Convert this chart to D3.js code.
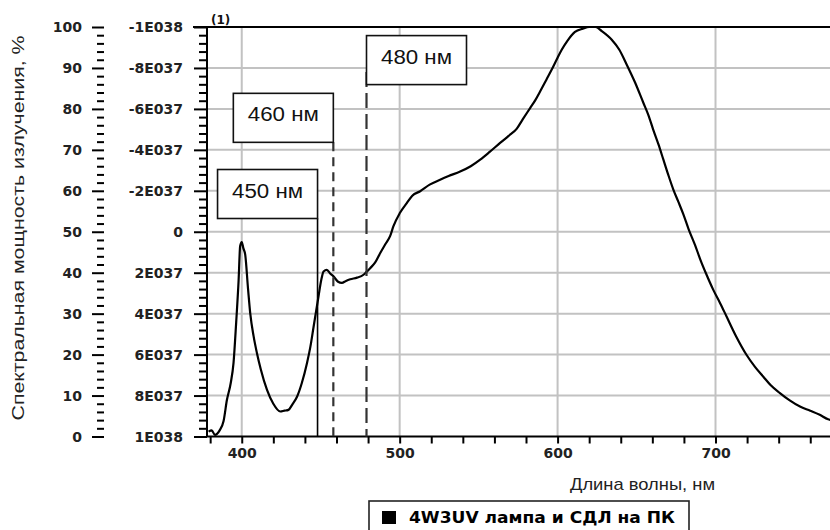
<!DOCTYPE html>
<html><head><meta charset="utf-8">
<script src="https://cdn.jsdelivr.net/npm/d3@7"></script>
<style>body{margin:0;background:#fff}svg{display:block}</style>
</head><body>
<svg id="c" width="830" height="530"></svg>
<script>
// ---- data ----
const wavelengths = [379,381,383,386,388.5,390.6,393,394.8,396.5,398,399,400,401,402.2,404,405.4,407.5,409.6,412,416,420,424.4,427,429.6,432,435,438,441.3,443.5,445.5,448.6,450.5,451.8,453.9,456,458.1,461,463.4,466,468.7,473,477.1,479,481.3,484.5,487.7,491,494,496,500,504.5,508,513,519,525.6,531,538.3,545,551,557,563.6,569,574.2,578,582.6,586,589,593,596.3,600,602.7,606,611,616,620,624,628,634.3,639,643.8,649,654.3,657.5,660.6,664,667,670,673.3,676.5,679.6,683,687,690.2,694,698.6,703,707,713,719.7,725,730.3,735,740.8,747,753.5,760,766,771.3,773];
const intensities = [1.2,1.5,0.4,1.5,3.8,8.9,13,18,28,38,46.5,47.5,46,44.4,36,30,24.5,20.4,16.5,11.4,8,6.1,6.3,6.5,7.8,9.7,13,17.9,22,26.8,34.2,38.5,40.3,40.7,39.8,39.1,37.8,37.5,38,38.4,38.8,39.5,40.2,41.1,42.5,44.8,47,49,51.3,54.5,57,58.8,59.9,61.5,62.7,63.6,64.7,66,67.6,69.5,71.7,73.4,75.2,77.5,80.2,82.2,84.3,87.2,89.6,92.5,94.5,96.5,98.8,99.6,100,100,99,96.9,94.5,90.8,86.5,81.5,78.5,74.9,71.2,67.6,64,60.3,57.3,54.3,50.6,46.8,43.4,39.8,35.8,32.5,29.3,24.5,19.9,17,14.6,12.5,10.6,8.8,7.3,6.3,5.3,4.2,4];
const xGridValues = [400,500,600,700];
const xMinorTicks = [380,400,420,440,460,480,500,520,540,560,580,600,620,640,660,680,700,720,740,760];
const yPctTicks = [0,10,20,30,40,50,60,70,80,90,100];
const yPctLabels = ["0","10","20","30","40","50","60","70","80","90","100"];
const ySciLabels = ["1E038","8E037","6E037","4E037","2E037","0","-2E037","-4E037","-6E037","-8E037","-1E038"];
const markerWavelengths = [448,458,479];
const markerLabels = ["450 нм","460 нм","480 нм"];
const legendLabel = "4W3UV лампа и СДЛ на ПК";
const xTitle = "Длина волны, нм";
const yTitle = "Спектральная мощность излучения, %";

// ---- layout ----
const svg = d3.select("#c");
const L = 207, R = 830, T = 27, B = 436.5;
const x = d3.scaleLinear().domain([378, 772.5]).range([L, R]);
const y = d3.scaleLinear().domain([0, 100]).range([B, T]);
const tickFont = "'DejaVu Sans', Verdana, sans-serif";
const txtFont = "'Liberation Sans', Arial, sans-serif";

svg.append("rect").attr("width",830).attr("height",530).attr("fill","#fff");

// grid
svg.append("g").selectAll("line").data(xGridValues).join("line")
  .attr("x1",d=>x(d)).attr("x2",d=>x(d)).attr("y1",T).attr("y2",B)
  .attr("stroke","#c2c2c2").attr("stroke-width",2);
svg.append("g").selectAll("line").data(yPctTicks.filter(d=>d>0&&d<100)).join("line")
  .attr("x1",L).attr("x2",R).attr("y1",d=>y(d)).attr("y2",d=>y(d))
  .attr("stroke","#c2c2c2").attr("stroke-width",2);

// curve
svg.append("clipPath").attr("id","clip").append("rect")
  .attr("x",L).attr("y",T-3).attr("width",R-L).attr("height",B-T+3);
const pts = wavelengths.map((w,i)=>[w,intensities[i]]);
svg.append("path").datum(pts)
  .attr("clip-path","url(#clip)")
  .attr("fill","none").attr("stroke","#000").attr("stroke-width",2.2)
  .attr("stroke-linejoin","round")
  .attr("d", d3.line().x(d=>x(d[0])).y(d=>y(d[1])).curve(d3.curveMonotoneX));

// bottom axis
const gx = svg.append("g").attr("transform",`translate(0,${B})`)
  .call(d3.axisBottom(x).tickValues(xMinorTicks).tickSize(7)
        .tickFormat(d=>xGridValues.includes(d)?d:""));
gx.select(".domain").attr("stroke","#000").attr("stroke-width",2).attr("d",`M${L},0H${R}`);
gx.selectAll(".tick line").attr("stroke","#000").attr("stroke-width",2);
gx.selectAll(".tick text").attr("font-family",tickFont).attr("font-size",14)
  .attr("font-weight","bold").attr("fill","#222").attr("dy","0.95em").attr("y",8);

// inner left axis (sci labels)
const yMinor = d3.range(0,101,2);
const gi = svg.append("g").attr("transform",`translate(${L},0)`);
gi.call(d3.axisLeft(y).tickValues(yMinor).tickSize(8).tickFormat(""));
gi.selectAll(".tick").filter(d=>d%10===0).select("line").attr("x2",-13);
gi.select(".domain").attr("stroke","#000").attr("stroke-width",2).attr("d",`M0,${B}V${T}`);
gi.selectAll(".tick line").attr("stroke","#000").attr("stroke-width",2);
gi.append("g").selectAll("text").data(yPctTicks).join("text")
  .attr("x",-24).attr("y",d=>y(d)).attr("dy","0.36em").attr("text-anchor","end")
  .attr("font-family",tickFont).attr("font-size",14).attr("font-weight","bold").attr("fill","#222")
  .text((d,i)=>ySciLabels[i]);

// outer left axis (percent)
const go = svg.append("g").attr("transform",`translate(104,0)`);
go.call(d3.axisLeft(y).tickValues(yMinor).tickSize(7).tickFormat(""));
go.selectAll(".tick").filter(d=>d%10===0).select("line").attr("x2",-12);
go.select(".domain").remove();
go.selectAll(".tick line").attr("stroke","#000").attr("stroke-width",2);
go.append("g").selectAll("text").data(yPctTicks).join("text")
  .attr("x",-22).attr("y",d=>y(d)).attr("dy","0.36em").attr("text-anchor","end")
  .attr("font-family",tickFont).attr("font-size",14).attr("font-weight","bold").attr("fill","#222")
  .text((d,i)=>yPctLabels[i]);

// top border
svg.append("line").attr("x1",193).attr("x2",R).attr("y1",T).attr("y2",T)
  .attr("stroke","#000").attr("stroke-width",2);
svg.append("text").attr("x",211).attr("y",24).attr("font-family",tickFont)
  .attr("font-size",12).attr("font-weight","bold").attr("fill","#111").text("(1)");

// marker lines and boxes
const boxW = 100, boxH = 49;
const boxTopPct = [65.2, 83.8, 97.9];   // box top in % units
const boxSide = ["left","left","right"]; // box placed left or right of its line
const lineTopPct = [null, null, 89.0];
const dashes = [null, "9,6", "15,6"];
markerWavelengths.forEach((w,i)=>{
  const lx = x(w);
  const bt = y(boxTopPct[i]);
  const bx = boxSide[i]==="left" ? lx - boxW : lx;
  const lt = lineTopPct[i]!==null ? y(lineTopPct[i]) : bt + boxH;
  svg.append("line").attr("x1",lx).attr("x2",lx).attr("y1",lt).attr("y2",B)
    .attr("stroke", i===0?"#000":"#333").attr("stroke-width",i===0?1.6:2.2)
    .attr("stroke-dasharray",dashes[i]);
  svg.append("rect").attr("x",bx).attr("y",bt).attr("width",boxW).attr("height",boxH)
    .attr("fill","#fff").attr("stroke","#111").attr("stroke-width",1.6);
  svg.append("text").attr("x",bx+boxW/2).attr("y",bt+28).attr("text-anchor","middle")
    .attr("font-family",txtFont).attr("font-size",20).attr("fill","#111")
    .attr("textLength",71).attr("lengthAdjust","spacingAndGlyphs")
    .text(markerLabels[i]);
});

// titles
svg.append("text").attr("transform","translate(24,228) rotate(-90)")
  .attr("text-anchor","middle").attr("font-family",txtFont).attr("font-size",17)
  .attr("fill","#222").attr("textLength",385).attr("lengthAdjust","spacingAndGlyphs")
  .text(yTitle);
svg.append("text").attr("x",570).attr("y",490).attr("font-family",txtFont)
  .attr("font-size",17).attr("fill","#222").attr("textLength",145)
  .attr("lengthAdjust","spacingAndGlyphs").text(xTitle);

// legend
svg.append("rect").attr("x",369).attr("y",501).attr("width",320).attr("height",40)
  .attr("fill","#fff").attr("stroke","#222").attr("stroke-width",1.6);
svg.append("rect").attr("x",382).attr("y",511).attr("width",14).attr("height",13).attr("fill","#000");
svg.append("text").attr("x",409).attr("y",523).attr("font-family",tickFont)
  .attr("font-size",15).attr("font-weight","bold").attr("fill","#000")
  .attr("textLength",266).attr("lengthAdjust","spacingAndGlyphs").text(legendLabel);
</script>
</body></html>
